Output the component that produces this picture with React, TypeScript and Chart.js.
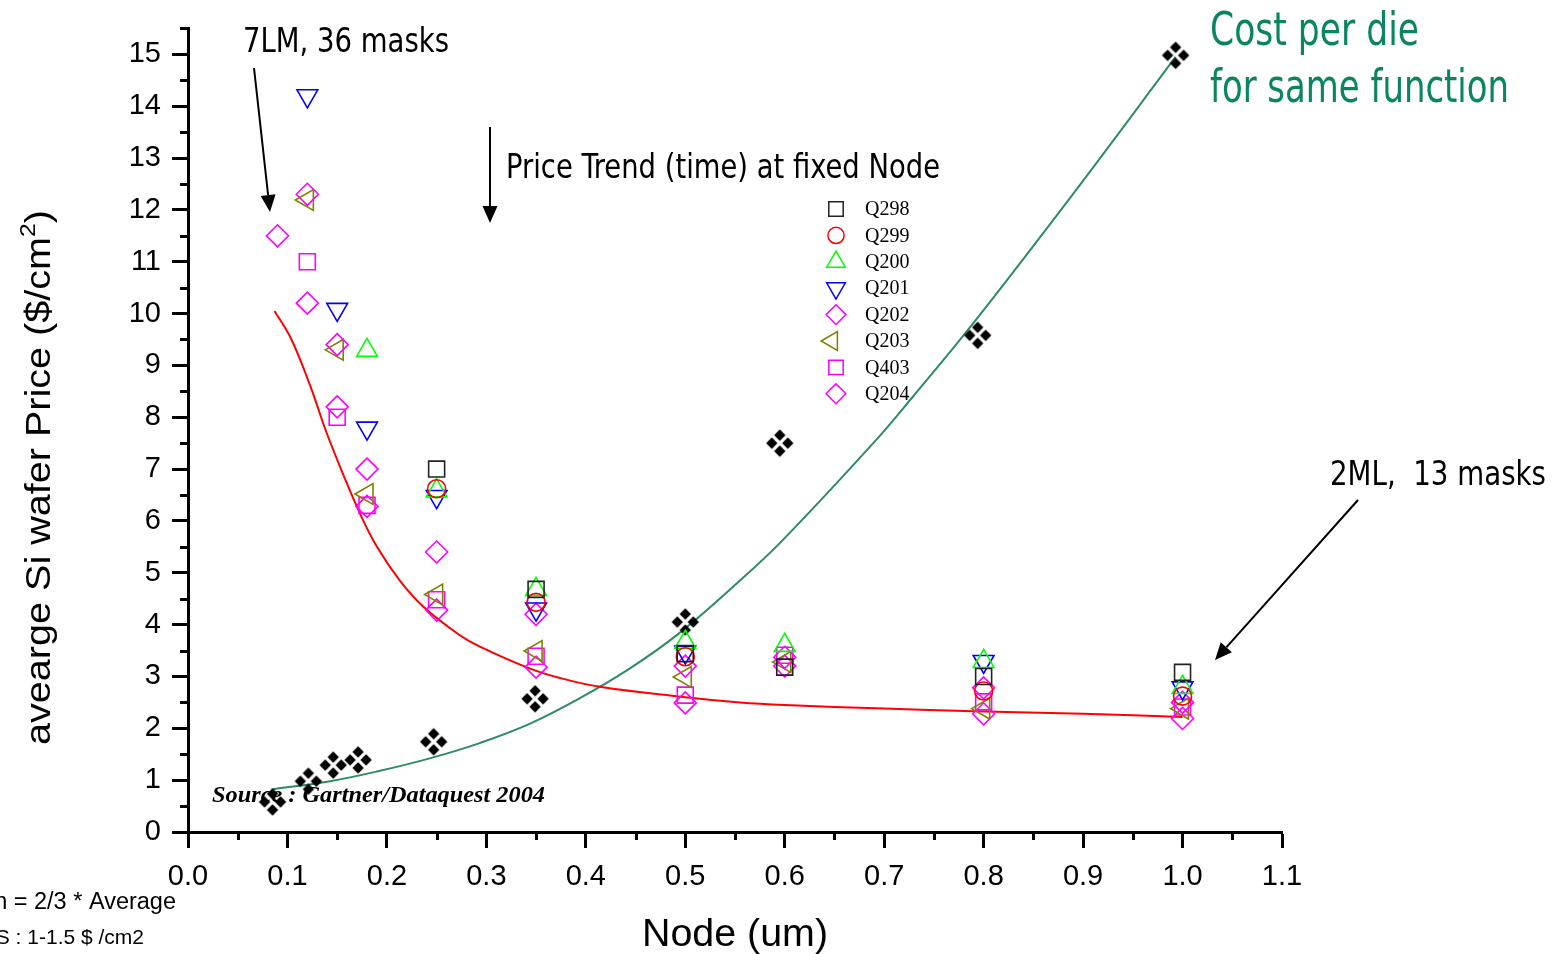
import React, { useEffect, useRef } from 'react';
import { Chart, registerables } from 'chart.js';
import { drawPoint } from 'chart.js/helpers';

Chart.register(...registerables);

// ---------- data (node in um, price in $/cm2) ----------
const Q298: [number, number][] = [[0.25, 7.0], [0.35, 4.68], [0.5, 3.44], [0.6, 3.18], [0.8, 3.0], [1.0, 3.08]];
const Q299: [number, number][] = [[0.25, 6.62], [0.35, 4.43], [0.5, 3.38], [0.8, 2.72], [1.0, 2.62]];
const Q200: [number, number][] = [[0.18, 9.29], [0.25, 6.58], [0.35, 4.68], [0.5, 3.66], [0.6, 3.6], [0.8, 3.29], [1.0, 2.79]];
const Q201: [number, number][] = [[0.12, 14.2], [0.15, 10.08], [0.18, 7.79], [0.25, 6.47], [0.35, 4.3], [0.5, 3.47], [0.8, 3.29], [1.0, 2.78]];
const Q202: [number, number][] = [[0.12, 12.3], [0.15, 9.4], [0.18, 7.0], [0.25, 5.4], [0.35, 4.2], [0.5, 3.2], [0.6, 3.37], [0.8, 2.78], [1.0, 2.5]];
const Q203: [number, number][] = [[0.12, 12.19], [0.15, 9.3], [0.18, 6.52], [0.25, 4.58], [0.35, 3.49], [0.5, 2.99], [0.6, 3.28], [0.8, 2.38], [1.0, 2.38]];
const Q403: [number, number][] = [[0.12, 11.0], [0.15, 8.0], [0.18, 6.3], [0.25, 4.48], [0.35, 3.39], [0.5, 2.64], [0.6, 3.41], [0.8, 2.51], [1.0, 2.41]];
const Q204: [number, number][] = [[0.09, 11.5], [0.12, 10.2], [0.15, 8.2], [0.18, 6.28], [0.25, 4.28], [0.35, 3.18], [0.5, 2.49], [0.6, 3.2], [0.8, 2.28], [1.0, 2.19]];

// cost per die (black clusters)
const costPerDie: [number, number][] = [[0.085, 0.58], [0.121, 0.98], [0.146, 1.29], [0.171, 1.39], [0.247, 1.74], [0.349, 2.57], [0.5, 4.05], [0.595, 7.5], [0.794, 9.58], [0.993, 14.98]];

// fitted curves
const priceFit: [number, number][] = [[0.087, 10.05], [0.104, 9.5], [0.123, 8.6], [0.139, 7.72], [0.156, 6.9], [0.173, 6.14], [0.19, 5.5], [0.213, 4.85], [0.237, 4.34], [0.273, 3.8], [0.294, 3.57], [0.344, 3.15], [0.374, 2.97], [0.414, 2.8], [0.495, 2.61], [0.555, 2.5], [0.6, 2.45], [0.7, 2.38], [0.79, 2.33], [0.9, 2.28], [1.0, 2.22]];
const costFit: [number, number][] = [[0.084, 0.82], [0.143, 0.98], [0.193, 1.18], [0.243, 1.42], [0.294, 1.72], [0.344, 2.09], [0.394, 2.58], [0.444, 3.15], [0.495, 3.85], [0.555, 4.85], [0.598, 5.63], [0.689, 7.5], [0.729, 8.4], [0.789, 9.8], [0.89, 12.31], [0.993, 14.95]];

const seriesNames = ['Q298', 'Q299', 'Q200', 'Q201', 'Q202', 'Q203', 'Q403', 'Q204'];
const seriesValues = [Q298, Q299, Q200, Q201, Q202, Q203, Q403, Q204];
const seriesColors = ['#222222', '#ff0000', '#00ff00', '#0000ff', '#ff00ff', '#808000', '#ff00ff', '#ff00ff'];
const seriesShapes = ['rect', 'circle', 'triangle', 'triangle', 'rectRot', 'triangle', 'rect', 'rectRot'];
const seriesRotation = [0, 0, 0, 180, 0, 270, 0, 0];
const seriesRadius = [11.3, 9, 12, 12, 11, 12, 11.3, 11];

const xMin = 0, xMax = 1.1, xStep = 0.1;
const yMin = 0, yMax = 15.5, yStep = 1;

const SANS = "Arial, 'Liberation Sans', sans-serif";
const NARROW = "'Liberation Sans Narrow', 'Arial Narrow', 'DejaVu Sans Condensed', Arial, sans-serif";
const SERIF = "'Times New Roman', 'Liberation Serif', serif";

function toXY(a: [number, number][]) {
  return a.map(([x, y]) => ({ x, y }));
}

function makeCluster(): HTMLCanvasElement {
  const c = document.createElement('canvas');
  c.width = 30;
  c.height = 30;
  const g = c.getContext('2d')!;
  g.fillStyle = '#000';
  const o = 8, h = 5.7, m = 15;
  const centers = [[m, m - o], [m - o, m], [m + o, m], [m, m + o]];
  for (const [cx, cy] of centers) {
    g.beginPath();
    g.moveTo(cx, cy - h);
    g.lineTo(cx + h, cy);
    g.lineTo(cx, cy + h);
    g.lineTo(cx - h, cy);
    g.closePath();
    g.fill();
  }
  return c;
}

function fitText(ctx: CanvasRenderingContext2D, text: string, x: number, y: number, width: number, font: string, color: string) {
  ctx.save();
  ctx.font = font;
  ctx.fillStyle = color;
  ctx.textAlign = 'left';
  ctx.textBaseline = 'alphabetic';
  const w = ctx.measureText(text).width;
  ctx.translate(x, y);
  ctx.scale(width / w, 1);
  ctx.fillText(text, 0, 0);
  ctx.restore();
}

function arrow(ctx: CanvasRenderingContext2D, x1: number, y1: number, x2: number, y2: number) {
  const ang = Math.atan2(y2 - y1, x2 - x1);
  const hl = 17, hw = 7.5;
  const bx = x2 - Math.cos(ang) * hl;
  const by = y2 - Math.sin(ang) * hl;
  ctx.save();
  ctx.strokeStyle = '#000';
  ctx.fillStyle = '#000';
  ctx.lineWidth = 2;
  ctx.beginPath();
  ctx.moveTo(x1, y1);
  ctx.lineTo(bx, by);
  ctx.stroke();
  ctx.beginPath();
  ctx.moveTo(x2, y2);
  ctx.lineTo(bx + Math.sin(ang) * hw, by - Math.cos(ang) * hw);
  ctx.lineTo(bx - Math.sin(ang) * hw, by + Math.cos(ang) * hw);
  ctx.closePath();
  ctx.fill();
  ctx.restore();
}

const decorPlugin = {
  id: 'decor',
  afterDatasetsDraw(chart: any) {
    const ctx: CanvasRenderingContext2D = chart.ctx;
    // legend
    const lx = 836, ly0 = 209, lstep = 26.4;
    seriesNames.forEach((name, i) => {
      const y = ly0 + i * lstep;
      ctx.save();
      ctx.strokeStyle = seriesColors[i];
      ctx.fillStyle = 'rgba(0,0,0,0)';
      ctx.lineWidth = 1.5;
      drawPoint(ctx, { pointStyle: seriesShapes[i] as any, rotation: seriesRotation[i], radius: seriesRadius[i] * 0.9, borderWidth: 1.5 }, seriesShapes[i] === 'triangle' && seriesRotation[i] === 270 ? lx - 4 : lx, y);
      ctx.restore();
      ctx.save();
      ctx.font = `20px ${SERIF}`;
      ctx.fillStyle = '#000';
      ctx.textBaseline = 'middle';
      ctx.fillText(name, 865, y + 1);
      ctx.restore();
    });
  },
  afterDraw(chart: any) {
    const ctx: CanvasRenderingContext2D = chart.ctx;
    const xs = chart.scales.x, ys = chart.scales.y;
    const area = chart.chartArea;
    // minor ticks
    ctx.save();
    ctx.strokeStyle = '#000';
    ctx.lineWidth = 3;
    for (let i = 1; i <= 31; i += 2) {
      const py = Math.round(ys.getPixelForValue(i / 2)) + 0.5;
      ctx.beginPath();
      ctx.moveTo(area.left, py);
      ctx.lineTo(area.left - 8, py);
      ctx.stroke();
    }
    for (let i = 1; i <= 21; i += 2) {
      const px = Math.round(xs.getPixelForValue(i / 20)) + 0.5;
      ctx.beginPath();
      ctx.moveTo(px, area.bottom);
      ctx.lineTo(px, area.bottom + 8);
      ctx.stroke();
    }
    ctx.restore();

    // axis titles
    ctx.save();
    ctx.fillStyle = '#000';
    ctx.textBaseline = 'alphabetic';
    const main = 'avearge Si wafer Price ($/cm';
    const bigFont = `35px ${SANS}`;
    const supFont = `22px ${SANS}`;
    ctx.font = bigFont;
    const w1 = ctx.measureText(main).width;
    const w3 = ctx.measureText(')').width;
    ctx.font = supFont;
    const w2 = ctx.measureText('2').width;
    const total = w1 + w2 + w3;
    const s = 535 / total;
    ctx.translate(50, 745);
    ctx.rotate(-Math.PI / 2);
    ctx.scale(s, 1);
    ctx.font = bigFont;
    ctx.fillText(main, 0, 0);
    ctx.font = supFont;
    ctx.fillText('2', w1, -15);
    ctx.font = bigFont;
    ctx.fillText(')', w1 + w2, 0);
    ctx.restore();

    fitText(ctx, 'Node (um)', 642, 946, 186, `39px ${SANS}`, '#000');

    // annotations
    fitText(ctx, '7LM, 36 masks', 243, 52, 206, `34px ${NARROW}`, '#000');
    arrow(ctx, 254, 68, 270, 212);
    fitText(ctx, 'Price Trend (time) at fixed Node', 506, 178, 434, `34px ${NARROW}`, '#000');
    arrow(ctx, 490, 127, 490, 223);
    fitText(ctx, 'Cost per die', 1210, 45, 209, `47px ${NARROW}`, '#0a8562');
    fitText(ctx, 'for same function', 1210, 102, 299, `47px ${NARROW}`, '#0a8562');
    fitText(ctx, '2ML,  13 masks', 1330, 485, 216, `34px ${NARROW}`, '#000');
    arrow(ctx, 1358, 500, 1215, 660);
    fitText(ctx, 'Source : Gartner/Dataquest 2004', 212, 802, 333, `bold italic 24px ${SERIF}`, '#000');

    // bottom-left notes (cut off by the page edge)
    ctx.save();
    ctx.fillStyle = '#000';
    ctx.textAlign = 'right';
    ctx.font = `23.5px ${SANS}`;
    ctx.fillText('n = 2/3 * Average', 176, 909);
    ctx.font = `21px ${SANS}`;
    ctx.fillText('S : 1-1.5 $ /cm2', 144, 944);
    ctx.restore();
  },
};

export default function App() {
  const ref = useRef<HTMLCanvasElement>(null);
  useEffect(() => {
    if (!ref.current) return;
    const cluster = makeCluster();
    const datasets: any[] = [
      {
        label: 'price fit',
        data: toXY(priceFit),
        showLine: true,
        borderColor: '#ff0000',
        borderWidth: 2,
        pointRadius: 0,
        tension: 0.4,
        order: 3,
      },
      {
        label: 'cost fit',
        data: toXY(costFit),
        showLine: true,
        borderColor: '#2e8b62',
        borderWidth: 2,
        pointRadius: 0,
        tension: 0.4,
        order: 3,
      },
      {
        label: 'cost per die',
        data: toXY(costPerDie),
        pointStyle: cluster,
        pointRadius: 12,
        showLine: false,
        order: 2,
      },
      ...seriesNames.map((name, i) => ({
        label: name,
        data: toXY(seriesValues[i]),
        showLine: false,
        pointStyle: seriesShapes[i],
        pointRotation: seriesRotation[i],
        pointRadius: seriesRadius[i],
        pointBorderWidth: 1.6,
        borderColor: seriesColors[i],
        pointBorderColor: seriesColors[i],
        backgroundColor: 'rgba(0,0,0,0)',
        pointBackgroundColor: 'rgba(0,0,0,0)',
        order: 1,
      })),
    ];
    const chart = new Chart(ref.current, {
      type: 'scatter',
      data: { datasets },
      options: {
        animation: false,
        responsive: false,
        devicePixelRatio: 1,
        events: [],
        layout: { padding: { top: 27, right: 270, left: 0, bottom: 0 } },
        plugins: { legend: { display: false }, tooltip: { enabled: false } },
        scales: {
          x: {
            type: 'linear',
            min: xMin,
            max: xMax,
            afterFit: (scale: any) => { scale.height = 122; },
            border: { display: true, width: 3, color: '#000' },
            grid: { display: true, drawOnChartArea: false, drawTicks: true, tickLength: 16, tickWidth: 3, tickColor: '#000' },
            ticks: {
              stepSize: xStep,
              includeBounds: false,
              autoSkip: false,
              maxRotation: 0,
              padding: 12,
              color: '#000',
              font: { family: SANS, size: 29 },
              callback: (v: any) => Number(v).toFixed(1),
            },
          },
          y: {
            type: 'linear',
            min: yMin,
            max: yMax,
            afterFit: (scale: any) => { scale.width = 188; },
            border: { display: true, width: 3, color: '#000' },
            grid: { display: true, drawOnChartArea: false, drawTicks: true, tickLength: 16, tickWidth: 3, tickColor: '#000' },
            ticks: {
              stepSize: yStep,
              includeBounds: false,
              autoSkip: false,
              padding: 11,
              color: '#000',
              font: { family: SANS, size: 29 },
              callback: (v: any) => (Number.isInteger(Number(v)) ? String(v) : ''),
            },
          },
        },
      },
      plugins: [decorPlugin],
    });
    return () => chart.destroy();
  }, []);
  return (
    <div style={{ position: 'fixed', left: 0, top: 0, width: 1552, height: 954, background: '#fff', overflow: 'hidden' }}>
      <canvas ref={ref} width={1552} height={954} style={{ display: 'block' }} />
    </div>
  );
}
